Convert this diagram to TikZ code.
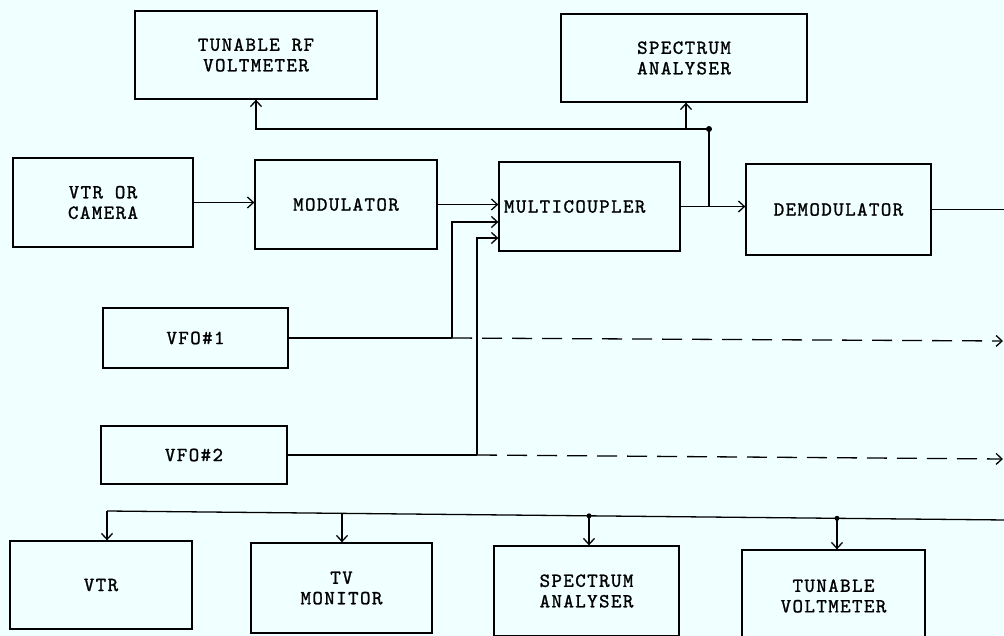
\documentclass[tikz,border=0pt]{standalone}
\usepackage{fontspec}
\newfontfamily\tw{lmmono10-regular.otf}[LetterSpace=7,FakeBold=1.2]
\usetikzlibrary{arrows.meta,calc}
\definecolor{bg}{HTML}{F0FFFF}
\tikzset{
  box/.style={draw, line width=1.3pt, inner sep=0pt, align=center,
    font=\tw\fontsize{20}{20.5}\selectfont},
  wire/.style={line width=1.3pt},
  arr/.style={wire, -{Straight Barb[length=6pt,width=11pt,line width=1.3pt]}},
  dashline/.style={dash pattern=on 20pt off 10pt},
  jdot/.style={circle, fill, inner sep=0pt, minimum size=6pt}
}
\begin{document}
\begin{tikzpicture}[x=1pt,y=-1pt]
\useasboundingbox (0,0) rectangle (1004,636);
\fill[bg] (0,0) rectangle (1004,636);
\clip (0,0) rectangle (1004,636);

% boxes
\node[box, minimum width=242, minimum height=88] (rfv) at (256,55) {TUNABLE RF\\VOLTMETER};
\node[box, minimum width=246, minimum height=88] (spa1) at (684,58) {SPECTRUM\\ANALYSER};
\node[box, minimum width=180, minimum height=89] (vtrcam) at (103,202.5) {VTR OR\\CAMERA};
\node[box, minimum width=182, minimum height=89] (mod) at (346,204.5) {MODULATOR};
\node[box, minimum width=181, minimum height=89, inner xsep=5pt, text width=171pt, align=left] (mc) at (589.5,206.5) {MULTICOUPLER};
\node[box, minimum width=185, minimum height=91] (demod) at (838.5,209.5) {DEMODULATOR};
\node[box, minimum width=185, minimum height=60] (vfo1) at (195.5,338) {VFO\#1};
\node[box, minimum width=186, minimum height=58] (vfo2) at (194,455) {VFO\#2};
\node[box, minimum width=182, minimum height=88] (vtr) at (101,585) {VTR};
\node[box, minimum width=181, minimum height=90] (tvm) at (341.5,588) {TV\\MONITOR};
\node[box, minimum width=185, minimum height=90] (spa2) at (586.5,591) {SPECTRUM\\ANALYSER};
\node[box, minimum width=183, minimum height=92] (tvolt) at (833.5,596) {TUNABLE\\VOLTMETER};

% main chain
\draw[arr] (vtrcam.east) -- (vtrcam.east -| mod.west);
\draw[arr] (mod.east) -- (mod.east -| mc.west);
\draw[arr] (mc.east) -- (mc.east -| demod.west);

% monitoring tap above
\coordinate (j1) at (709,206.5);
\coordinate (jd) at (709,129);
\coordinate (ja) at (686,129);
\draw[wire] (j1) -- (jd);
\draw[arr] (jd) -| (rfv.south);
\draw[arr] (ja) -- (ja |- spa1.south);
\node[jdot] (jdd) at (jd) {};

% demodulator output
\coordinate (eR) at (1006,209.5);
\draw[wire] (demod.east) -- (eR);

% VFO feeds
\coordinate (v1j) at (452,338);
\coordinate (v2j) at (477,455);
\draw[wire] (vfo1.east) -- (v1j);
\draw[wire] (vfo2.east) -- (v2j);
\draw[arr] (v1j) |- ($(mc.west)+(0,15.5)$);
\draw[arr] (v2j) |- ($(mc.west)+(0,31.5)$);
\coordinate (d1) at (1003,341);
\coordinate (d2) at (1003,459);
\draw[arr, dashline] (v1j) -- (d1);
\draw[arr, dashline] (v2j) -- (d2);

% output bus
\coordinate (b1) at (107,511);
\coordinate (b2) at (342,513.3);
\coordinate (b3) at (589,515.8);
\coordinate (b4) at (837,518.3);
\coordinate (bR) at (1006,520);
\draw[wire] (bR) -- (b1);
\draw[arr] (b1) -- (b1 |- vtr.north);
\draw[arr] (b2) -- (b2 |- tvm.north);
\draw[arr] (b3) -- (b3 |- spa2.north);
\draw[arr] (b4) -- (b4 |- tvolt.north);
\node[jdot, minimum size=5pt] (b3d) at (b3) {};
\node[jdot, minimum size=5pt] (b4d) at (b4) {};
\end{tikzpicture}
\end{document}
